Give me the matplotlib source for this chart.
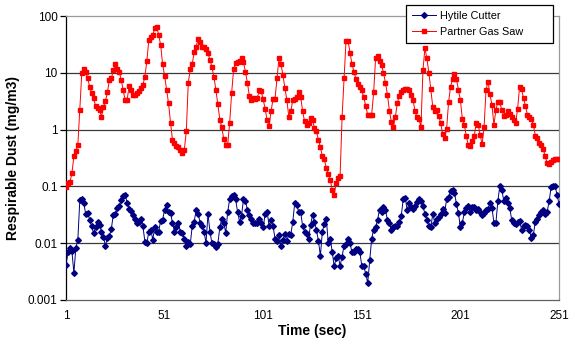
import numpy as np
import matplotlib
matplotlib.use("Agg")
import matplotlib.pyplot as plt
from matplotlib.ticker import FixedLocator, NullLocator, FixedFormatter

plt.rcParams['font.family'] = ['Liberation Sans', 'DejaVu Sans']

# readings, one per second
hytile = [
    0.0041, 0.0069, 0.0083, 0.0072, 0.003, 0.0083, 0.0115, 0.057, 0.06, 0.05,
    0.033, 0.034, 0.026, 0.02, 0.015, 0.019, 0.024, 0.021, 0.016, 0.013,
    0.0091, 0.0123, 0.0133, 0.018, 0.032, 0.033, 0.042, 0.045, 0.057, 0.069,
    0.07, 0.052, 0.040, 0.037, 0.032, 0.027, 0.023, 0.024, 0.027, 0.02,
    0.0107, 0.01, 0.016,
    0.0174, 0.0115, 0.019, 0.016, 0.016, 0.025, 0.026, 0.039, 0.048, 0.036,
    0.034, 0.023, 0.016, 0.019, 0.023, 0.016, 0.015, 0.0119, 0.0091, 0.0107,
    0.0095, 0.02, 0.024, 0.038, 0.033, 0.023, 0.020, 0.016, 0.010, 0.033,
    0.016, 0.010, 0.0095, 0.0086, 0.0098, 0.019, 0.027, 0.023, 0.015, 0.036,
    0.059, 0.067, 0.072, 0.059,
    0.036, 0.024, 0.030, 0.059, 0.055, 0.039, 0.031, 0.027, 0.023, 0.023,
    0.023, 0.027, 0.023, 0.019, 0.033, 0.036, 0.020, 0.026, 0.020, 0.012,
    0.011, 0.014, 0.0091, 0.0115, 0.0147, 0.011, 0.0147, 0.014, 0.024, 0.051,
    0.048, 0.035, 0.035, 0.020, 0.016, 0.0147, 0.012, 0.021, 0.031, 0.024,
    0.017, 0.011, 0.0060, 0.016,
    0.022, 0.027, 0.0100, 0.012, 0.0070, 0.0039, 0.0055, 0.0060, 0.0040, 0.0058,
    0.0091, 0.0095, 0.012, 0.0101, 0.0070, 0.0070, 0.0078, 0.0078, 0.0070, 0.0040,
    0.0039, 0.0029, 0.0020, 0.0050, 0.012, 0.0174, 0.019, 0.026, 0.039, 0.036,
    0.044, 0.038, 0.026, 0.023, 0.0174, 0.019, 0.020, 0.020, 0.024, 0.030,
    0.060, 0.063, 0.039,
    0.051, 0.044, 0.040, 0.046, 0.053, 0.060, 0.055, 0.045, 0.033, 0.026,
    0.020, 0.019, 0.033, 0.023, 0.027, 0.029, 0.033, 0.040, 0.034, 0.059,
    0.065, 0.083, 0.088, 0.077, 0.049, 0.034, 0.019, 0.023, 0.035, 0.042,
    0.045, 0.035, 0.044, 0.044, 0.039, 0.040, 0.035, 0.031, 0.034, 0.039,
    0.040, 0.051,
    0.042, 0.023, 0.023, 0.055, 0.103, 0.088, 0.055, 0.063, 0.051, 0.042,
    0.026, 0.023, 0.022, 0.024, 0.025, 0.0174, 0.020, 0.021, 0.020, 0.0174,
    0.0123, 0.014, 0.024, 0.027, 0.031, 0.036, 0.039, 0.033, 0.036, 0.055,
    0.097, 0.101, 0.103, 0.071, 0.049,
]

partner = [
    0.098, 0.115, 0.12, 0.17, 0.34, 0.42, 0.53, 2.2, 9.8, 11.5,
    10.4, 8, 5.7, 4.4, 3.55, 2.6, 2.4, 2.2, 1.7, 2.5,
    3.2, 4.5, 7.5, 8, 11, 14, 11.5, 10.5, 7.5, 4.9,
    3.3, 3.3, 5.9, 5, 4.1, 4, 4.4, 4.7, 5.3, 6.1,
    8.6, 16, 38, 42,
    46, 61, 65, 46, 31, 14, 8.9, 5, 2.9, 1.33,
    0.66, 0.58, 0.52, 0.5, 0.44, 0.38, 0.44, 0.93, 6.6, 11.5,
    14.3, 22.8, 29, 39, 35, 29, 28, 26, 22, 17,
    12.5, 8.6, 5, 2.8, 1.5, 1.1, 0.68, 0.54, 0.54, 1.33,
    4.4, 11.5,
    14.7, 15.2, 16.4, 18, 15.2, 10.5, 6.6, 3.9, 3.3, 3.6,
    3.4, 3.6, 4.9, 4.7, 3.4, 2.3, 1.45, 1.17, 2.1, 3.5,
    3.5, 8, 18, 14.3, 9.2, 5.4, 3.3, 1.66, 2.1, 3.3,
    3.4, 3.7, 4.5, 3.8, 2.1, 1.39, 1.22, 1.33, 1.59, 1.49,
    1.06, 0.93, 0.66, 0.49,
    0.34, 0.30, 0.21, 0.167, 0.13, 0.087, 0.071, 0.117, 0.14, 0.155,
    1.66, 8, 37, 37, 22.7, 14.3, 10.5, 7.8, 6.4, 5.6,
    4.9, 3.7, 2.6, 1.82, 1.82, 1.82, 4.5, 18, 20, 16.4,
    13.8, 10, 6.7, 4.1, 2.15, 1.35, 1.1, 1.66, 2.9, 3.9,
    4.5, 4.9, 5.1,
    5.1, 4.9, 4.1, 3.3, 2.1, 1.66, 1.53, 1.1, 11, 27,
    18, 10, 5.1, 2.5, 2.1, 2.2, 1.75, 1.3, 0.84, 0.71,
    1.03, 3.0, 5.7, 7.7, 9.6, 7.8, 5.0, 3.3, 1.53, 1.22,
    0.76, 0.54, 0.52, 0.62, 0.76, 1.3, 1.22, 0.81, 0.55, 1.1,
    5.0, 7.0, 4.2, 2.7,
    1.22, 2.2, 3.1, 3.0, 2.2, 1.75, 1.82, 2.1, 1.9, 1.66,
    1.49, 1.3, 2.3, 5.6, 5.1, 3.6, 2.6, 1.82, 1.7, 1.53,
    1.22, 0.78, 0.71, 0.59, 0.54, 0.45, 0.34, 0.26, 0.25, 0.265,
    0.29, 0.30, 0.30, 0.30,
]

series_names = ["Hytile Cutter", "Partner Gas Saw"]
y_ticks = [0.001, 0.01, 0.1, 1, 10, 100]
y_tick_labels = ["0.001", "0.01", "0.1", "1", "10", "100"]
x_ticks = [1, 51, 101, 151, 201, 251]

t_h = np.arange(1, len(hytile) + 1)
t_p = np.arange(1, len(partner) + 1)

fig = plt.figure(figsize=(5.75, 3.5), dpi=100)
ax = fig.add_axes([66 / 575, 50 / 350, 493 / 575, 284 / 350])

ax.set_yscale("log")
ax.set_ylim(0.001, 100)
ax.set_xlim(1, 251)

for yv in y_ticks[1:-1]:
    ax.axhline(yv, color="#3a3a3a", lw=0.9, zorder=1)

ax.plot(t_h, hytile, color="#000080", lw=0.7, marker="D", ms=2.9,
        mec="#000080", mfc="#000080", label=series_names[0], zorder=3)
ax.plot(t_p, partner, color="#ff0000", lw=0.7, marker="s", ms=3.3,
        mec="#ff0000", mfc="#ff0000", label=series_names[1], zorder=3)

ax.yaxis.set_major_locator(FixedLocator(y_ticks))
ax.yaxis.set_major_formatter(FixedFormatter(y_tick_labels))
ax.yaxis.set_minor_locator(NullLocator())
ax.set_xticks(x_ticks)
ax.tick_params(axis="x", length=0, labelsize=8.5, pad=7)
ax.tick_params(axis="y", length=4, width=0.9, labelsize=8.5, pad=2,
               direction="out")

for s in ["top", "right"]:
    ax.spines[s].set_color("#9a9a9a")
    ax.spines[s].set_linewidth(0.9)
ax.spines["bottom"].set_color("#606060")
ax.spines["bottom"].set_linewidth(0.9)
ax.spines["left"].set_color("black")
ax.spines["left"].set_linewidth(0.9)

ax.set_xlabel("Time (sec)", fontsize=10, fontweight="bold", labelpad=2)
ax.set_ylabel("Respirable Dust (mg/m3)", fontsize=10, fontweight="bold",
              labelpad=6)

# legend box sits over the top right corner, as in the Excel original
leg = ax.legend(loc="upper left",
                bbox_to_anchor=(406 / 575, 1 - 43 / 350, 147 / 575, 38 / 350),
                bbox_transform=fig.transFigure, mode="expand",
                fontsize=7.8, frameon=True, fancybox=False, edgecolor="black",
                framealpha=1, handlelength=2.2, borderpad=0.55,
                labelspacing=0.55, handletextpad=0.4, borderaxespad=0)
leg.get_frame().set_linewidth(0.9)
leg.set_zorder(5)

fig.savefig("out.png", dpi=100)
